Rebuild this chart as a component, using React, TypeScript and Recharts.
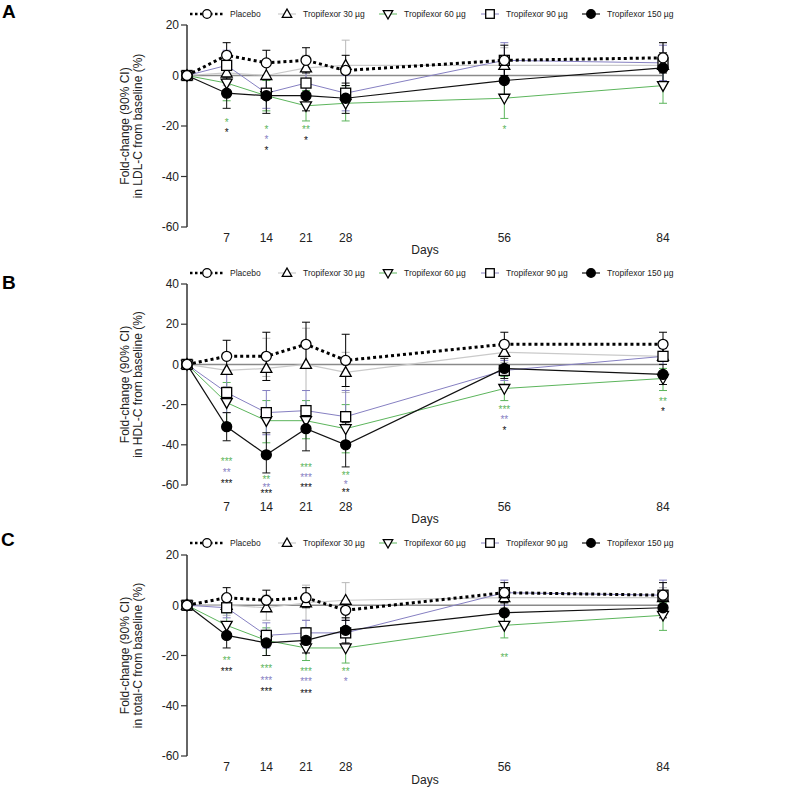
import { ComposedChart, Line, XAxis, YAxis, ErrorBar, ReferenceLine, ReferenceDot } from 'recharts';

const FONT = '"Liberation Sans", Arial, sans-serif';

const days = [0, 7, 14, 21, 28, 56, 84];
const dayTicks = [7, 14, 21, 28, 56, 84];
const ticks80 = [-60, -40, -20, 0, 20];
const ticks100 = [-60, -40, -20, 0, 20, 40];

const seriesOrder = ['t30', 't60', 't90', 't150', 'placebo'];
const legendKeys = ['placebo', 't30', 't60', 't90', 't150'];
const legendNames = ['Placebo', 'Tropifexor 30 µg', 'Tropifexor 60 µg', 'Tropifexor 90 µg', 'Tropifexor 150 µg'];

// A: LDL-C
const ldlPlacebo = [0, 8, 5, 6, 2, 6, 7];
const ldlPlaceboCI = [[0, 0], [3, 13], [0, 10], [1, 11], [-4, 8], [0, 12], [1, 13]];
const ldlT30 = [0, 1, 0, 3, 4, 4, 4];
const ldlT30CI = [[0, 0], [-4, 6], [-6, 6], [-2, 8], [-6, 14], [-3, 11], [-4, 13]];
const ldlT60 = [0, -3, -8, -12, -11, -9, -4];
const ldlT60CI = [[0, 0], [-10, 4], [-14, -2], [-18, -6], [-18, -4], [-17, -1], [-11, 3]];
const ldlT90 = [0, 4, -7, -3, -7, 6, 5];
const ldlT90CI = [[0, 0], [-2, 10], [-13, -1], [-9, 3], [-14, 0], [-1, 13], [-2, 12]];
const ldlT150 = [0, -7, -8, -8, -9, -2, 3];
const ldlT150CI = [[0, 0], [-13, -1], [-15, -1], [-14, -2], [-15, -3], [-8, 4], [-3, 9]];
const ldlStars = [
  { day: 7, y: -18.5, text: '*', group: 't60' },
  { day: 7, y: -22.3, text: '*', group: 't150' },
  { day: 14, y: -21.3, text: '*', group: 't60' },
  { day: 14, y: -25, text: '*', group: 't90' },
  { day: 14, y: -29.4, text: '*', group: 't150' },
  { day: 21, y: -21.3, text: '**', group: 't60' },
  { day: 21, y: -25.5, text: '*', group: 't150' },
  { day: 56, y: -21.3, text: '*', group: 't60' },
];

// B: HDL-C
const hdlPlacebo = [0, 4, 4, 10, 2, 10, 10];
const hdlPlaceboCI = [[0, 0], [-4, 12], [-8, 16], [-1, 21], [-11, 15], [4, 16], [4, 16]];
const hdlT30 = [0, -3, -2, 0, -4, 6, 4];
const hdlT30CI = [[0, 0], [-11, 5], [-6, 13], [-13, 18], [-14, 6], [1, 10], [0, 8]];
const hdlT60 = [0, -19, -28, -28, -32, -12, -7];
const hdlT60CI = [[0, 0], [-29, -9], [-39, -18], [-37, -18], [-44, -20], [-18, -6], [-13, -2]];
const hdlT90 = [0, -14, -24, -23, -26, -3, 4];
const hdlT90CI = [[0, 0], [-24, -4], [-35, -13], [-33, -13], [-39, -13], [-8, 2], [0, 8]];
const hdlT150 = [0, -31, -45, -32, -40, -2, -5];
const hdlT150CI = [[0, 0], [-38, -24], [-54, -34], [-43, -22], [-51, -29], [-7, 3], [-10, 0]];
const hdlStars = [
  { day: 7, y: -48.3, text: '***', group: 't60' },
  { day: 7, y: -53.7, text: '**', group: 't90' },
  { day: 7, y: -58.8, text: '***', group: 't150' },
  { day: 14, y: -57.2, text: '**', group: 't60' },
  { day: 14, y: -60.8, text: '**', group: 't90' },
  { day: 14, y: -64.2, text: '***', group: 't150' },
  { day: 21, y: -51.2, text: '***', group: 't60' },
  { day: 21, y: -56.2, text: '***', group: 't90' },
  { day: 21, y: -60.8, text: '***', group: 't150' },
  { day: 28, y: -55.2, text: '**', group: 't60' },
  { day: 28, y: -59.7, text: '*', group: 't90' },
  { day: 28, y: -63.7, text: '**', group: 't150' },
  { day: 56, y: -22, text: '***', group: 't60' },
  { day: 56, y: -27.2, text: '**', group: 't90' },
  { day: 56, y: -32.5, text: '*', group: 't150' },
  { day: 84, y: -18.3, text: '**', group: 't60' },
  { day: 84, y: -23, text: '*', group: 't150' },
];

// C: total-C
const tcPlacebo = [0, 3, 2, 3, -2, 5, 4];
const tcPlaceboCI = [[0, 0], [-1, 7], [-2, 6], [-1, 7], [-6, 2], [1, 9], [0, 9]];
const tcT30 = [0, 0, -1, 1, 2, 3, 3];
const tcT30CI = [[0, 0], [-4, 4], [-6, 4], [-6, 8], [-5, 9], [-1, 7], [-1, 7]];
const tcT60 = [0, -8, -14, -17, -17, -8, -4];
const tcT60CI = [[0, 0], [-13, -3], [-20, -9], [-22, -12], [-23, -11], [-13, -3], [-10, 1]];
const tcT90 = [0, -1, -12, -11, -11, 5, 4];
const tcT90CI = [[0, 0], [-5, 3], [-17, -7], [-16, -6], [-16, -6], [0, 10], [-1, 10]];
const tcT150 = [0, -12, -15, -14, -10, -3, -1];
const tcT150CI = [[0, 0], [-17, -7], [-20, -10], [-19, -9], [-15, -5], [-7, 1], [-5, 3]];
const tcStars = [
  { day: 7, y: -21.7, text: '**', group: 't60' },
  { day: 7, y: -26, text: '***', group: 't150' },
  { day: 14, y: -25, text: '***', group: 't60' },
  { day: 14, y: -29.6, text: '***', group: 't90' },
  { day: 14, y: -34.3, text: '***', group: 't150' },
  { day: 21, y: -26, text: '***', group: 't60' },
  { day: 21, y: -30.1, text: '***', group: 't90' },
  { day: 21, y: -34.9, text: '***', group: 't150' },
  { day: 28, y: -26, text: '**', group: 't60' },
  { day: 28, y: -30.3, text: '*', group: 't90' },
  { day: 56, y: -20.7, text: '**', group: 't60' },
];

const look: Record<string, any> = {
  placebo: { stroke: '#000', width: 3, dash: '3 3', err: '#000', marker: 'circle' },
  t30: { stroke: '#cacaca', width: 1.2, err: '#b8b8b8', marker: 'tri' },
  t60: { stroke: '#5cb55c', width: 1, err: '#5cb55c', marker: 'itri' },
  t90: { stroke: '#8680c2', width: 1, err: '#8680c2', marker: 'square' },
  t150: { stroke: '#111', width: 1.2, err: '#111', marker: 'dot' },
};

type Series = Record<string, [number[], number[][]]>;

function buildRows(series: Series) {
  return days.map((day, i) => {
    const row: any = { day };
    Object.keys(series).forEach((k) => {
      const [m, ci] = series[k];
      row[k] = m[i];
      row[k + 'Err'] = [m[i] - ci[i][0], ci[i][1] - m[i]];
    });
    return row;
  });
}

function Marker({ kind, cx, cy, s }: { kind: string; cx: number; cy: number; s: number }) {
  const sw = 1.3;
  if (kind === 'circle') return <circle cx={cx} cy={cy} r={s} fill="#fff" stroke="#000" strokeWidth={sw} />;
  if (kind === 'dot') return <circle cx={cx} cy={cy} r={s} fill="#000" stroke="#000" strokeWidth={sw} />;
  if (kind === 'square')
    return <rect x={cx - s} y={cy - s} width={s * 2} height={s * 2} fill="#fff" stroke="#000" strokeWidth={sw} />;
  if (kind === 'tri')
    return (
      <polygon
        points={`${cx},${cy - s * 1.15} ${cx - s * 1.1},${cy + s * 0.8} ${cx + s * 1.1},${cy + s * 0.8}`}
        fill="#fff"
        stroke="#000"
        strokeWidth={sw}
      />
    );
  return (
    <polygon
      points={`${cx},${cy + s * 1.15} ${cx - s * 1.1},${cy - s * 0.8} ${cx + s * 1.1},${cy - s * 0.8}`}
      fill="#fff"
      stroke="#000"
      strokeWidth={sw}
    />
  );
}

function Panel(props: {
  top: number;
  height: number;
  marginTop: number;
  marginBottom: number;
  axisH: number;
  tickMargin: number;
  daysOffset: number;
  domain: [number, number];
  yTicks: number[];
  series: Series;
  stars: { day: number; y: number; text: string; group: string }[];
  label2: string;
}) {
  const data = buildRows(props.series);
  const plotH = props.height - props.marginTop - props.marginBottom - props.axisH;
  const cy = props.marginTop + plotH / 2;
  return (
    <div style={{ position: 'absolute', left: 0, top: props.top }}>
      <ComposedChart
        width={787}
        height={props.height}
        data={data}
        margin={{ top: props.marginTop, right: 124, bottom: props.marginBottom, left: 147 }}
      >
        <XAxis
          type="number"
          dataKey="day"
          domain={[0, 84]}
          ticks={dayTicks}
          interval={0}
          height={props.axisH}
          axisLine={false}
          tickLine={false}
          tickMargin={props.tickMargin}
          tick={{ fontSize: 12, fill: '#222', fontFamily: FONT }}
          label={{ value: 'Days', position: 'bottom', offset: props.daysOffset, fontSize: 12, fill: '#222', fontFamily: FONT }}
        />
        <YAxis
          type="number"
          domain={props.domain}
          ticks={props.yTicks}
          interval={0}
          width={40}
          axisLine={{ stroke: '#333', strokeWidth: 1.5 }}
          tickLine={{ stroke: '#333', strokeWidth: 1.2 }}
          tickSize={6}
          tick={{ fontSize: 12, fill: '#222', fontFamily: FONT }}
          label={{
            content: () => (
              <text
                transform={`rotate(-90 125 ${cy})`}
                x={125}
                y={cy}
                textAnchor="middle"
                fontSize={12}
                fill="#222"
                fontFamily={FONT}
              >
                <tspan x={125} dy={4}>Fold-change (90% CI)</tspan>
                <tspan x={125} dy={12.5}>{props.label2}</tspan>
              </text>
            ),
          }}
        />
        <ReferenceLine y={0} stroke="#8a8a8a" strokeWidth={1.5} />
        {seriesOrder.map((k) => {
          const st = look[k];
          return (
            <Line
              key={k}
              type="linear"
              dataKey={k}
              stroke={st.stroke}
              strokeWidth={st.width}
              strokeDasharray={st.dash}
              isAnimationActive={false}
              activeDot={false}
              dot={(p: any) => <Marker key={`${k}-${p.index}`} kind={st.marker} cx={p.cx} cy={p.cy} s={5} />}
            >
              <ErrorBar dataKey={k + 'Err'} direction="y" width={4} stroke={st.err} strokeWidth={1} />
            </Line>
          );
        })}
        {props.stars.map((s, i) => (
          <ReferenceDot
            key={`star-${i}`}
            x={s.day}
            y={s.y}
            r={0}
            ifOverflow="visible"
            shape={(p: any) => (
              <text x={p.cx} y={p.cy + 4} textAnchor="middle" fontSize={10} fill={look[s.group].err} fontFamily={FONT}>
                {s.text}
              </text>
            )}
          />
        ))}
      </ComposedChart>
    </div>
  );
}

const legendX = [207, 287, 388, 490, 591];

function LegendRow({ y }: { y: number }) {
  return (
    <g>
      {legendKeys.map((k, i) => {
        const st = look[k];
        const cx = legendX[i];
        const half = k === 'placebo' ? 17 : 9;
        return (
          <g key={k}>
            <line
              x1={cx - half}
              x2={cx + half}
              y1={y}
              y2={y}
              stroke={st.stroke}
              strokeWidth={k === 'placebo' ? 2.5 : st.width}
              strokeDasharray={k === 'placebo' ? '2.5 2.5' : undefined}
            />
            <Marker kind={st.marker} cx={cx} cy={y} s={4.3} />
            <text x={cx + (k === 'placebo' ? 23 : 16)} y={y + 3} fontSize={8.5} fill="#222" fontFamily={FONT}>
              {legendNames[i]}
            </text>
          </g>
        );
      })}
    </g>
  );
}

export default function App() {
  return (
    <div style={{ position: 'absolute', left: 0, top: 0, width: 787, height: 791, background: '#fff' }}>
      <Panel
        top={0}
        height={262}
        marginTop={25}
        marginBottom={10}
        axisH={25}
        tickMargin={0}
        daysOffset={-7}
        domain={[-60, 20]}
        yTicks={ticks80}
        series={{
          placebo: [ldlPlacebo, ldlPlaceboCI],
          t30: [ldlT30, ldlT30CI],
          t60: [ldlT60, ldlT60CI],
          t90: [ldlT90, ldlT90CI],
          t150: [ldlT150, ldlT150CI],
        }}
        stars={ldlStars}
        label2="in LDL-C from baseline (%)"
      />
      <Panel
        top={262}
        height={268}
        marginTop={22}
        marginBottom={15}
        axisH={30}
        tickMargin={11}
        daysOffset={-1}
        domain={[-60, 40]}
        yTicks={ticks100}
        series={{
          placebo: [hdlPlacebo, hdlPlaceboCI],
          t30: [hdlT30, hdlT30CI],
          t60: [hdlT60, hdlT60CI],
          t90: [hdlT90, hdlT90CI],
          t150: [hdlT150, hdlT150CI],
        }}
        stars={hdlStars}
        label2="in HDL-C from baseline (%)"
      />
      <Panel
        top={530}
        height={261}
        marginTop={25}
        marginBottom={10}
        axisH={25}
        tickMargin={0}
        daysOffset={-6}
        domain={[-60, 20]}
        yTicks={ticks80}
        series={{
          placebo: [tcPlacebo, tcPlaceboCI],
          t30: [tcT30, tcT30CI],
          t60: [tcT60, tcT60CI],
          t90: [tcT90, tcT90CI],
          t150: [tcT150, tcT150CI],
        }}
        stars={tcStars}
        label2="in total-C from baseline (%)"
      />
      <svg
        width={787}
        height={791}
        style={{ position: 'absolute', left: 0, top: 0, pointerEvents: 'none' }}
      >
        <text x={2} y={18} fontSize={19} fontWeight="bold" fontFamily={FONT} fill="#000">A</text>
        <text x={2} y={289} fontSize={19} fontWeight="bold" fontFamily={FONT} fill="#000">B</text>
        <text x={1} y={546} fontSize={19} fontWeight="bold" fontFamily={FONT} fill="#000">C</text>
        <LegendRow y={14} />
        <LegendRow y={273} />
        <LegendRow y={543} />
      </svg>
    </div>
  );
}
